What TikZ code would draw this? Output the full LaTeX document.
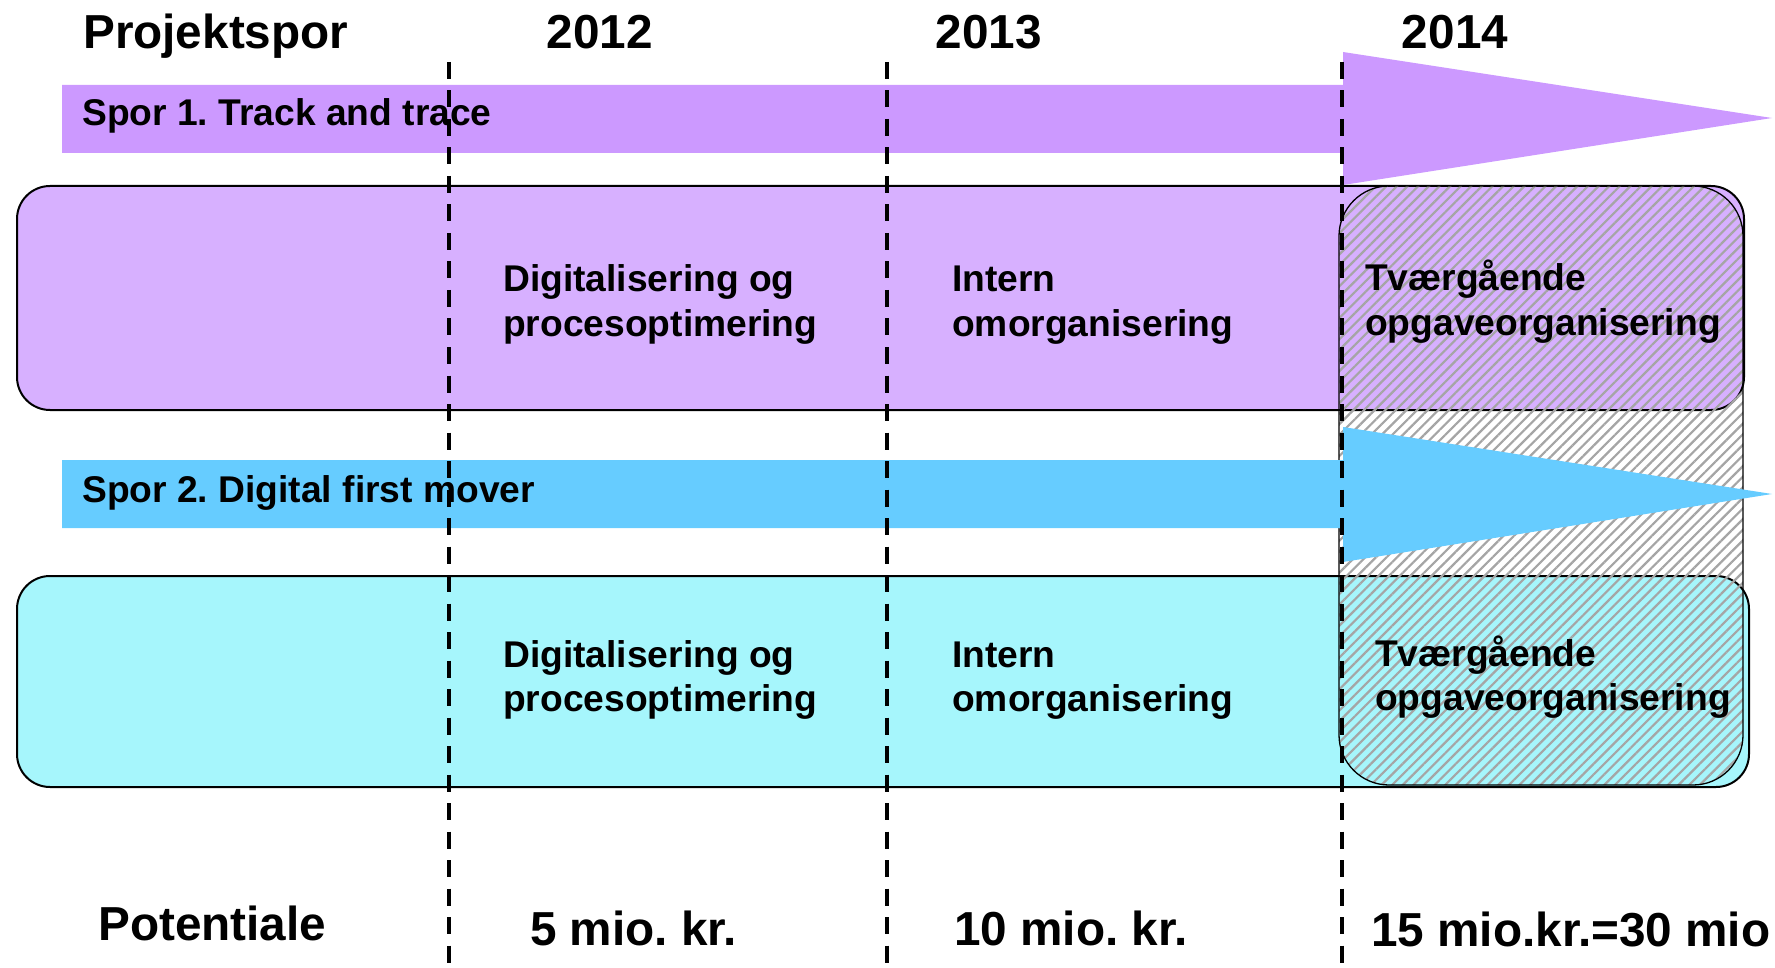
\documentclass[tikz,border=0pt]{standalone}
\usepackage{fontspec}
\setmainfont{Liberation Sans}
\usetikzlibrary{patterns.meta}
\frenchspacing
\definecolor{arrowpurple}{RGB}{204,153,255}
\definecolor{arrowblue}{RGB}{102,204,255}
\definecolor{boxpurple}{RGB}{215,176,255}
\definecolor{boxcyan}{RGB}{166,246,252}
\definecolor{hatchgray}{RGB}{165,165,165}
\tikzset{
  big/.style={font=\fontsize{47.7}{56}\selectfont\bfseries, inner sep=0pt, text=black},
  mid/.style={font=\fontsize{37.2}{44}\selectfont\bfseries, inner sep=0pt, text=black},
  phasebox/.style={draw=black, line width=2pt, rounded corners=33pt},
  hatchbox/.style={draw=black, line width=1.3pt, rounded corners=50pt,
    pattern={Lines[angle=45,distance=7.5pt,line width=2.2pt]}, pattern color=hatchgray},
  vline/.style={draw=black, line width=3.2pt, dash pattern=on 17pt off 11.5pt},
}
\begin{document}
\begin{tikzpicture}[x=1pt,y=-1pt]
\useasboundingbox (0,0) rectangle (1775,968);
% phase boxes
\draw[phasebox, fill=boxpurple] (17,186) rectangle (1744,410);
\draw[phasebox, fill=boxcyan] (17,576) rectangle (1749,787);
% hatched 2014 overlay
\draw[hatchbox] (1339,186) rectangle (1743,785);
% arrows
\fill[arrowpurple] (62,85) -- (1343,85) -- (1343,52) -- (1772,118) -- (1343,185) -- (1343,153) -- (62,153) -- cycle;
\fill[arrowblue] (62,460) -- (1343,460) -- (1343,427) -- (1772,494) -- (1343,562) -- (1343,528) -- (62,528) -- cycle;
% year separators
\coordinate (v1t) at (449,62);  \coordinate (v1b) at (449,968);
\coordinate (v2t) at (887,62);  \coordinate (v2b) at (887,968);
\coordinate (v3t) at (1342,62); \coordinate (v3b) at (1342,968);
\draw[vline] (v1t) -- (v1b);
\draw[vline] (v2t) -- (v2b);
\draw[vline] (v3t) -- (v3b);
% header
\node[big, anchor=base west] (proj) at (83,49) {Projektspor};
\node[big, anchor=base] (y2012) at (600,49) {2012};
\node[big, anchor=base] (y2013) at (989,49) {2013};
\node[big, anchor=base] (y2014) at (1455,49) {2014};
% tracks
\node[mid, anchor=base west] (spor1) at (82,126) {Spor 1. Track and trace};
\node[mid, anchor=base west] (spor2) at (82,502) {Spor 2. Digital first mover};
% row 1
\node[mid, anchor=base west] (r1a1) at (503,292) {Digitalisering og};
\node[mid, anchor=base west] (r1a2) at (503,336) {procesoptimering};
\node[mid, anchor=base west] (r1b1) at (952,292) {Intern};
\node[mid, anchor=base west] (r1b2) at (952,336) {omorganisering};
\node[mid, anchor=base west] (r1c1) at (1365,291) {Tværgående};
\node[mid, anchor=base west] (r1c2) at (1365,335) {opgaveorganisering};
% row 2
\node[mid, anchor=base west] (r2a1) at (503,667) {Digitalisering og};
\node[mid, anchor=base west] (r2a2) at (503,711) {procesoptimering};
\node[mid, anchor=base west] (r2b1) at (952,667) {Intern};
\node[mid, anchor=base west] (r2b2) at (952,711) {omorganisering};
\node[mid, anchor=base west] (r2c1) at (1375,666) {Tværgående};
\node[mid, anchor=base west] (r2c2) at (1375,710) {opgaveorganisering};
% potential
\node[big, anchor=base west] (pot) at (98,940) {Potentiale};
\node[big, anchor=base west] (p12) at (530,945) {5 mio. kr.};
\node[big, anchor=base west] (p13) at (954,945) {10 mio. kr.};
\node[big, anchor=base west] (p14) at (1371,946) {15 mio.kr.=30 mio};
\end{tikzpicture}
\end{document}
